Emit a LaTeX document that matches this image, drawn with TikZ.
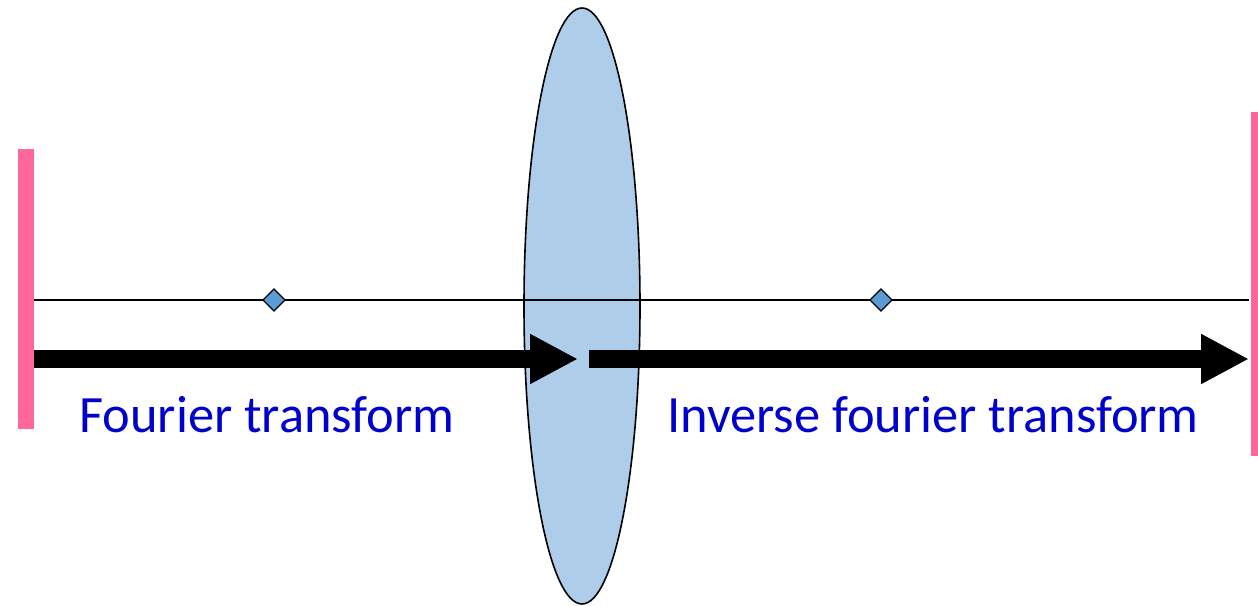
\documentclass[tikz,border=0pt]{standalone}
\usepackage{fontspec}
\setmainfont{Carlito}
\usetikzlibrary{arrows.meta,positioning,shapes.geometric}
\definecolor{PlatePink}{HTML}{FF6699}
\definecolor{LensBlue}{HTML}{AECDEA}
\definecolor{FocusBlue}{HTML}{5B9BD5}
\definecolor{LabelBlue}{HTML}{0000CC}

\begin{document}
\begin{tikzpicture}[
  x=0.75pt,y=-0.75pt,
  plate/.style={fill=PlatePink,draw=none},
  lens/.style={ellipse,draw=black,line width=1.2pt,fill=LensBlue,inner sep=0pt,
    minimum width=87pt,minimum height=447pt},
  focus/.style={diamond,draw=black,line width=0.9pt,fill=FocusBlue,inner sep=0pt,
    minimum width=17pt,minimum height=17pt},
  axis/.style={line width=1pt,color=black},
  bigarrow/.style={-{Triangle[length=36pt,width=35pt]},line width=13pt,color=black},
  label/.style={font=\fontsize{39.3}{43}\selectfont,text=LabelBlue,anchor=base,inner sep=0pt}
]
  \useasboundingbox (0,0) rectangle (1258,606);
  % object and image planes
  \fill[plate] (18,149) rectangle (34,429);
  \fill[plate] (1251,112) rectangle (1259,456);
  \node[lens] (lens) at (582,306) {};
  % optical axis with focal points
  \coordinate (axl) at (34,300);
  \coordinate (axr) at (1249,300);
  \draw[axis] (axl) -- (axr);
  \node[focus] (f1) at (274,300) {};
  \node[focus] (f2) at (881,300) {};
  % transforms
  \coordinate (a1s) at (34,359);
  \coordinate (a1e) at (578,359);
  \coordinate (a2s) at (589,359);
  \coordinate (a2e) at (1249,359);
  \draw[bigarrow] (a1s) -- (a1e);
  \draw[bigarrow] (a2s) -- (a2e);
  \node[label] (ft) at (267,432) {Fourier transform};
  \node[label] (ift) at (933,432) {Inverse fourier transform};
\end{tikzpicture}
\end{document}
